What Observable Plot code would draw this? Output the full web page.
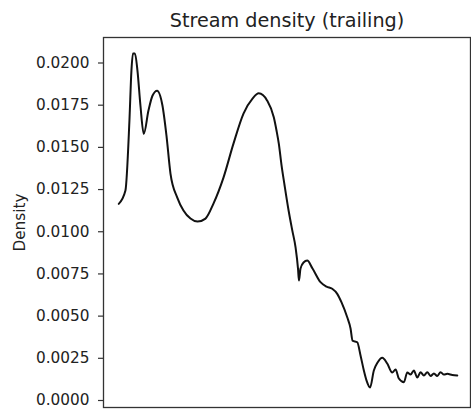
<!DOCTYPE html>
<html>
<head>
<meta charset="utf-8">
<script src="https://cdn.jsdelivr.net/npm/d3@7"></script>
<script src="https://cdn.jsdelivr.net/npm/@observablehq/plot@0.6"></script>
<style>
  html, body { margin: 0; padding: 0; background: #fff; }
  #chart svg { display: block; font-family: "DejaVu Sans", sans-serif; }
</style>
</head>
<body>
<div id="chart"></div>
<script>
// Trailing stream density estimate along the stream (position is unitless, 0–100)
const position = [
  0.00, 1.98, 3.16, 3.75, 4.20, 4.79, 5.53, 6.41, 7.39, 8.78,
  9.96, 11.35, 12.91, 14.10, 15.28, 17.26, 19.12, 21.19, 23.26, 25.62,
  27.98, 30.94, 33.89, 36.85, 39.51, 41.37, 43.85, 45.80, 46.60, 47.28,
  48.10, 48.99, 50.17, 51.26, 52.23, 52.97, 53.22, 53.69, 54.58, 55.67,
  57.24, 59.60, 61.38, 63.06, 64.54, 65.81, 67.49, 68.47, 69.06, 70.45,
  71.42, 72.40, 73.20, 74.23, 75.35, 76.45, 77.84, 79.31, 80.79, 81.77,
  82.74, 84.22, 85.22, 86.20, 87.17, 88.18, 89.15, 90.13, 91.13, 92.11,
  93.09, 94.09, 95.07, 96.04, 97.04, 98.52, 100.00
];
const density = [
  0.01165, 0.01244, 0.01659, 0.01955, 0.02056, 0.02056, 0.01955, 0.01748, 0.01580, 0.01718,
  0.01806, 0.01836, 0.01748, 0.01570, 0.01345, 0.01204, 0.01126, 0.01078, 0.01060, 0.01078,
  0.01167, 0.01321, 0.01522, 0.01700, 0.01789, 0.01820, 0.01777, 0.01678, 0.01600, 0.01522,
  0.01392, 0.01274, 0.01126, 0.01008, 0.00907, 0.00777, 0.00711, 0.00782, 0.00818, 0.00829,
  0.00782, 0.00701, 0.00675, 0.00662, 0.00632, 0.00581, 0.00493, 0.00427, 0.00355, 0.00345,
  0.00267, 0.00178, 0.00118, 0.00077, 0.00178, 0.00225, 0.00253, 0.00219, 0.00166, 0.00184,
  0.00130, 0.00108, 0.00166, 0.00154, 0.00178, 0.00136, 0.00168, 0.00148, 0.00168, 0.00145,
  0.00160, 0.00145, 0.00168, 0.00154, 0.00158, 0.00151, 0.00148
];
const yTicks = [0, 0.0025, 0.005, 0.0075, 0.01, 0.0125, 0.015, 0.0175, 0.02];
const titleText = "Stream density (trailing)";
const yLabel = "Density";

const data = position.map((p, i) => ({position: p, density: density[i]}));

const chart = Plot.plot({
  width: 471,
  height: 416,
  marginLeft: 103,
  marginRight: 1,
  marginTop: 37,
  marginBottom: 9,
  style: {fontFamily: "DejaVu Sans, sans-serif", background: "#fff"},
  x: {domain: [-4.5, 103.9], axis: null},
  y: {domain: [-0.000415, 0.021511], axis: null},
  marks: [
    Plot.frame({stroke: "#333", strokeWidth: 1.3}),
    Plot.axisY(yTicks, {
      tickSize: 5,
      tickPadding: 9,
      tickFormat: d3.format(".4f"),
      fontSize: 15.3,
      fill: "#222",
      stroke: "#333",
      strokeWidth: 1.2,
      label: null
    }),
    Plot.line(data, {
      x: "position",
      y: "density",
      stroke: "#111",
      strokeWidth: 2,
      curve: "monotone-x"
    }),
    Plot.text([titleText], {
      frameAnchor: "top",
      dy: -11,
      lineAnchor: "bottom",
      fontSize: 19.2,
      fill: "#222"
    }),
    Plot.text([yLabel], {
      frameAnchor: "left",
      dx: -83,
      rotate: -90,
      textAnchor: "middle",
      lineAnchor: "middle",
      fontSize: 15.3,
      fill: "#222"
    })
  ]
});

document.getElementById("chart").appendChild(chart);
</script>
</body>
</html>
